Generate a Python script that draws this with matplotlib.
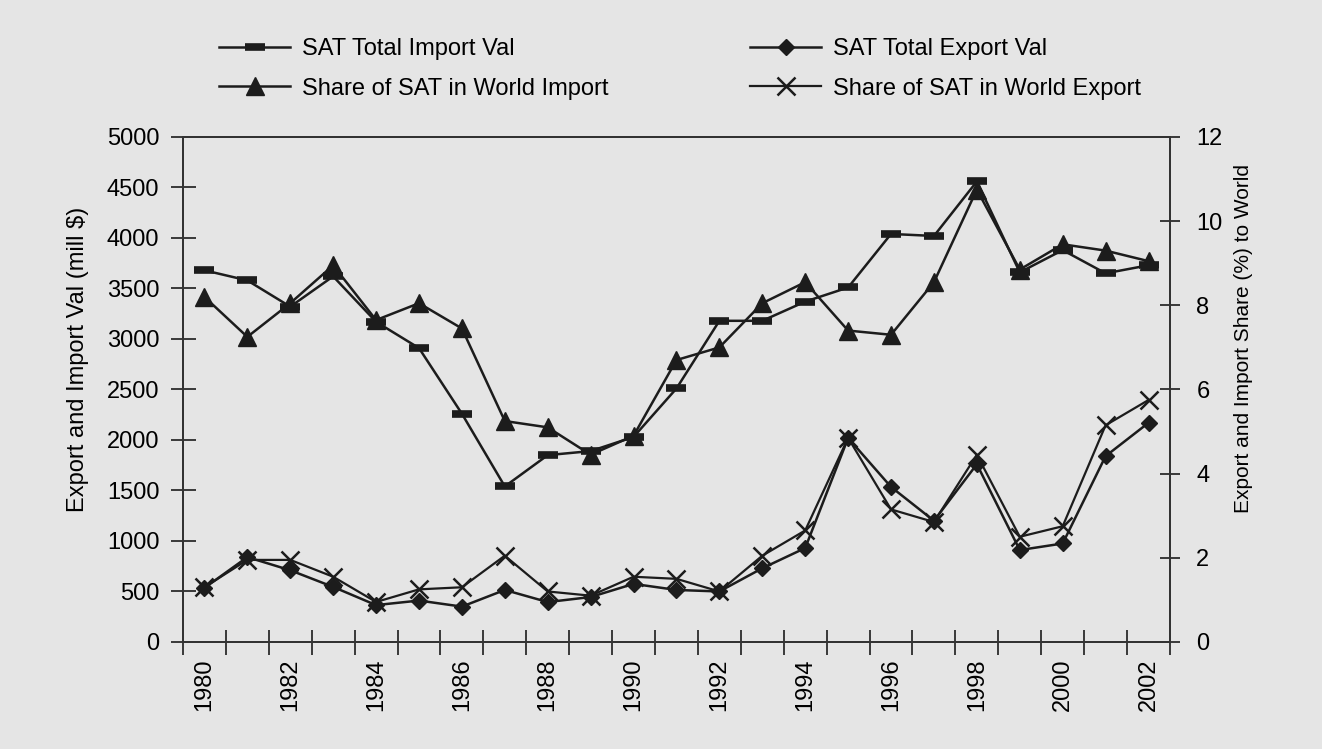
import numpy as np
import matplotlib.pyplot as plt
from matplotlib.ticker import FixedLocator

plt.rcParams["font.family"] = ["Liberation Sans", "DejaVu Sans"]

# %% data
years = list(range(1980, 2003))
import_val = [3680, 3580, 3320, 3620, 3170, 2910, 2260, 1540, 1850, 1890, 2030, 2510,
              3180, 3180, 3370, 3510, 4040, 4020, 4560, 3660, 3880, 3650, 3730]
export_val = [535, 840, 710, 545, 365, 410, 350, 515, 395, 445, 575, 515,
              500, 730, 930, 2020, 1535, 1200, 1760, 910, 975, 1840, 2170]
share_import = [8.2, 7.25, 8.05, 8.95, 7.65, 8.05, 7.45, 5.25, 5.1, 4.45, 4.9, 6.7,
                7.0, 8.05, 8.55, 7.4, 7.3, 8.55, 10.75, 8.85, 9.45, 9.3, 9.05]
share_export = [1.3, 1.95, 1.95, 1.55, 0.95, 1.25, 1.3, 2.05, 1.2, 1.1, 1.55, 1.5,
                1.2, 2.05, 2.65, 4.85, 3.15, 2.85, 4.45, 2.5, 2.75, 5.15, 5.75]

# %%
bg = "#e5e5e5"
ink = "#1c1c1c"
fs = 17
x = np.arange(len(years))

fig = plt.figure(figsize=(13.22, 7.49), dpi=100, facecolor=bg)
ax = fig.add_axes([0.1384, 0.1429, 0.7466, 0.6742])
ax.set_facecolor(bg)
ax2 = ax.twinx()

h1, = ax.plot(x, import_val, color=ink, lw=1.8, marker="_", ms=15, mew=5.5,
              label="SAT Total Import Val")
h3, = ax.plot(x, export_val, color=ink, lw=1.8, marker="D", ms=8,
              label="SAT Total Export Val")
h2, = ax2.plot(x, share_import, color=ink, lw=1.8, marker="^", ms=13,
               label="Share of SAT in World Import")
h4, = ax2.plot(x, share_export, color=ink, lw=1.6, marker="x", ms=13, mew=1.8,
               label="Share of SAT in World Export")

ax.set_xlim(-0.5, len(years) - 0.5)
ax.set_ylim(0, 5000)
ax2.set_ylim(0, 12)
ax.set_yticks(range(0, 5001, 500))
ax2.set_yticks(range(0, 13, 2))

ax.set_xticks(x[::2])
ax.set_xticklabels([str(y) for y in years[::2]], rotation=90, fontsize=fs)
ax.xaxis.set_minor_locator(FixedLocator(np.arange(-0.5, len(years), 1.0)))
ax.tick_params(axis="x", which="major", length=0, pad=12)
ax.tick_params(axis="x", which="minor", direction="inout", length=18, width=1.2, color=ink)
ax.tick_params(axis="y", direction="inout", length=18, width=1.2, color=ink,
               labelsize=fs, pad=8)
ax2.tick_params(axis="y", direction="inout", length=14, width=1.2, color=ink,
                labelsize=fs, pad=12)

for a in (ax, ax2):
    for s in a.spines.values():
        s.set_color("#333333")
        s.set_linewidth(1.4)

ax.set_ylabel("Export and Import Val (mill $)", fontsize=fs)
ax.yaxis.set_label_coords(-0.095, 0.56)
ax2.set_ylabel("Export and Import Share (%) to World", fontsize=15)
ax2.yaxis.set_label_coords(1.065, 0.60)

fig.legend(handles=[h1, h2, h3, h4], ncol=2, loc="upper left",
           bbox_to_anchor=(0.157, 0.965), frameon=False, fontsize=fs,
           borderpad=0, handlelength=3.0, handletextpad=0.5, columnspacing=6.0,
           labelspacing=0.75)

fig.savefig("out.png", dpi=100, facecolor=bg)
